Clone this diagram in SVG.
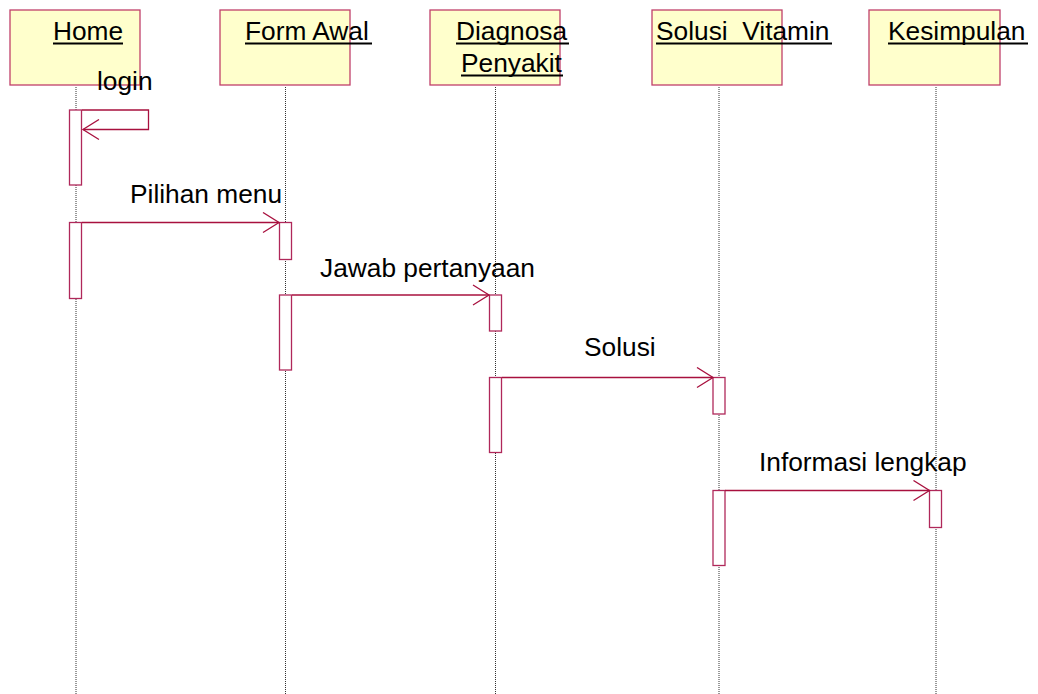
<svg xmlns="http://www.w3.org/2000/svg" width="1038" height="694" viewBox="0 0 1038 694">
<defs>
<style>
.box{fill:#ffffcc;stroke:#c0406a;stroke-width:1.3}
.life{stroke:#333;stroke-width:1;stroke-dasharray:1,1;fill:none}
.act{fill:#fff;stroke:#b0285a;stroke-width:1.3}
.msg{stroke:#a8103e;stroke-width:1.3;fill:none}
.t{font-family:"Liberation Sans",Arial,sans-serif;font-size:26.3px;fill:#000}
.ul{stroke:#000;stroke-width:2}
</style>
<marker id="open" viewBox="0 0 20 22" refX="18" refY="11" markerWidth="20" markerHeight="22" markerUnits="userSpaceOnUse" orient="auto">
<path d="M2,1 L18,11 L2,21" fill="none" stroke="#a8103e" stroke-width="1.3"/>
</marker>
</defs>
<rect width="1038" height="694" fill="#fff"/>
<g id="lifelines">
<line class="life" x1="76" y1="87" x2="76" y2="694"/>
<line class="life" x1="285.5" y1="87" x2="285.5" y2="694"/>
<line class="life" x1="495.5" y1="87" x2="495.5" y2="694"/>
<line class="life" x1="719" y1="87" x2="719" y2="694"/>
<line class="life" x1="936" y1="87" x2="936" y2="694"/>
</g>
<g id="node-home">
<rect class="box" x="10" y="10" width="130" height="75"/>
<text class="t" x="53" y="40">Home</text>
<line class="ul" x1="53" y1="43.5" x2="123" y2="43.5"/>
</g>
<g id="node-formawal">
<rect class="box" x="220" y="10" width="130" height="75"/>
<text class="t" x="245" y="40">Form Awal</text>
<line class="ul" x1="245" y1="43.5" x2="372" y2="43.5"/>
</g>
<g id="node-diagnosa">
<rect class="box" x="430" y="10" width="130" height="75"/>
<text class="t" x="456" y="40">Diagnosa</text>
<line class="ul" x1="456" y1="43.5" x2="569" y2="43.5"/>
<text class="t" x="461" y="72">Penyakit</text>
<line class="ul" x1="461" y1="75.5" x2="563" y2="75.5"/>
</g>
<g id="node-solusi">
<rect class="box" x="652" y="10" width="130" height="75"/>
<text class="t" x="656" y="40" xml:space="preserve">Solusi  Vitamin</text>
<line class="ul" x1="656" y1="43.5" x2="832" y2="43.5"/>
</g>
<g id="node-kesimpulan">
<rect class="box" x="869" y="10" width="131" height="75"/>
<text class="t" x="888" y="40">Kesimpulan</text>
<line class="ul" x1="888" y1="43.5" x2="1028" y2="43.5"/>
</g>
<g id="activations">
<rect class="act" x="69.5" y="110" width="12" height="75"/>
<rect class="act" x="69.5" y="222.5" width="12" height="76"/>
<rect class="act" x="279.5" y="222.5" width="12" height="37"/>
<rect class="act" x="279.5" y="295" width="12" height="75"/>
<rect class="act" x="489.5" y="295" width="12" height="36"/>
<rect class="act" x="489.5" y="377.5" width="12" height="75"/>
<rect class="act" x="713" y="377.5" width="12" height="36.5"/>
<rect class="act" x="713" y="490.5" width="12" height="75"/>
<rect class="act" x="929.5" y="490.5" width="12" height="37"/>
</g>
<g id="connectors">
<path class="msg" d="M82,110 H148.5 V129.5 H83" marker-end="url(#open)"/>
<line class="msg" x1="82" y1="222.5" x2="279" y2="222.5" marker-end="url(#open)"/>
<line class="msg" x1="292" y1="295" x2="489" y2="295" marker-end="url(#open)"/>
<line class="msg" x1="502" y1="377.5" x2="713" y2="377.5" marker-end="url(#open)"/>
<line class="msg" x1="725" y1="490.5" x2="929.5" y2="490.5" marker-end="url(#open)"/>
<text class="t" x="97" y="90">login</text>
<text class="t" x="130" y="203">Pilihan menu</text>
<text class="t" x="320" y="277">Jawab pertanyaan</text>
<text class="t" x="584" y="356">Solusi</text>
<text class="t" x="759" y="471">Informasi lengkap</text>
</g>
</svg>
